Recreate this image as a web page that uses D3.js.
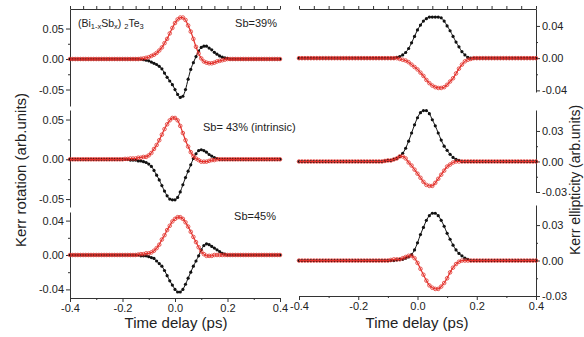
<!DOCTYPE html>
<html>
<head>
<meta charset="utf-8">
<script src="https://cdn.jsdelivr.net/npm/d3@7"></script>
<style>
  body { margin: 0; background: #fff; }
  text { font-family: Arial, "Liberation Sans", sans-serif; fill: #222; }
</style>
</head>
<body>
<div id="chart"></div>
<script>
// set up svg
var svgWidth = 584;
var svgHeight = 337;

// time axis (ps)
var timeDelay = [
  -0.40,-0.39,-0.38,-0.37,-0.36,-0.35,-0.34,-0.33,-0.32,-0.31,
  -0.30,-0.29,-0.28,-0.27,-0.26,-0.25,-0.24,-0.23,-0.22,-0.21,
  -0.20,-0.19,-0.18,-0.17,-0.16,-0.15,-0.14,-0.13,-0.12,-0.11,
  -0.10,-0.09,-0.08,-0.07,-0.06,-0.05,-0.04,-0.03,-0.02,-0.01,
  0.00,0.01,0.02,0.03,0.04,0.05,0.06,0.07,0.08,0.09,
  0.10,0.11,0.12,0.13,0.14,0.15,0.16,0.17,0.18,0.19,
  0.20,0.21,0.22,0.23,0.24,0.25,0.26,0.27,0.28,0.29,
  0.30,0.31,0.32,0.33,0.34,0.35,0.36,0.37,0.38,0.39,
  0.40];

// Kerr rotation, Sb=39%
var rot39Black = [
  0,0,0,0,0,0,0,0,0,0,
  0,0,0,0,0,0,0,0,0,0,
  0,0,0,0,0,0,0,0,-0.001,-0.002,
  -0.003,-0.005,-0.007,-0.009,-0.012,-0.016,-0.023,-0.030,-0.036,-0.042,
  -0.050,-0.058,-0.063,-0.061,-0.050,-0.033,-0.017,-0.006,0.004,0.013,
  0.019,0.021,0.021,0.018,0.015,0.011,0.008,0.005,0.003,0.002,
  0.001,0,0,0,0,0,0,0,0,0,
  0,0,0,0,0,0,0,0,0,0,
  0];
var rot39Red = [
  0,0,0,0,0,0,0,0,0,0,
  0,0,0,0,0,0,0,0,0,0,
  0,0,0,0,0,0,0,0.0005,0.001,0.002,
  0.003,0.005,0.007,0.010,0.014,0.019,0.026,0.033,0.042,0.051,
  0.059,0.065,0.068,0.068,0.064,0.055,0.045,0.033,0.020,0.009,
  0.001,-0.004,-0.006,-0.007,-0.007,-0.006,-0.004,-0.003,-0.002,-0.001,
  0,0,0,0,0,0,0,0,0,0,
  0,0,0,0,0,0,0,0,0,0,
  0];

// Kerr rotation, Sb=43%
var rot43Black = [
  0,0,0,0,0,0,0,0,0,0,
  0,0,0,0,0,0,0,0,0,0,
  0,0,0,-0.001,-0.001,-0.001,-0.002,-0.002,-0.003,-0.004,
  -0.006,-0.009,-0.014,-0.020,-0.026,-0.033,-0.040,-0.046,-0.050,-0.051,
  -0.051,-0.048,-0.041,-0.032,-0.023,-0.015,-0.007,0.001,0.007,0.011,
  0.012,0.011,0.009,0.006,0.004,0.002,0.001,0,0,0,
  0,0,0,0,0,0,0,0,0,0,
  0,0,0,0,0,0,0,0,0,0,
  0];
var rot43Red = [
  0,0,0,0,0,0,0,0,0,0,
  0,0,0,0,0,0,0,0,0,0,
  0,0.0005,0.0005,0.001,0.001,0.001,0.002,0.002,0.003,0.003,
  0.005,0.008,0.013,0.018,0.024,0.031,0.038,0.044,0.049,0.052,
  0.052,0.049,0.042,0.033,0.024,0.016,0.009,0.004,0.001,-0.001,
  -0.003,-0.003,-0.003,-0.002,-0.001,-0.001,0,0,0,0,
  0,0,0,0,0,0,0,0,0,0,
  0,0,0,0,0,0,0,0,0,0,
  0];

// Kerr rotation, Sb=45%
var rot45Black = [
  0,0,0,0,0,0,0,0,0,0,
  0,0,0,0,0,0,0,0,0,0,
  0,0,0,0,0,0,0,-0.001,-0.001,-0.001,
  -0.002,-0.003,-0.004,-0.007,-0.010,-0.013,-0.018,-0.024,-0.030,-0.035,
  -0.040,-0.043,-0.043,-0.040,-0.034,-0.027,-0.020,-0.013,-0.007,-0.001,
  0.006,0.011,0.013,0.012,0.010,0.008,0.006,0.004,0.002,0.001,
  0,0,0,0,0,0,0,0,0,0,
  0,0,0,0,0,0,0,0,0,0,
  0];
var rot45Red = [
  0,0,0,0,0,0,0,0,0,0,
  0,0,0,0,0,0,0,0,0,0,
  0,0,0,0,0,0,0.0005,0.001,0.001,0.002,
  0.002,0.003,0.005,0.008,0.012,0.018,0.023,0.029,0.034,0.039,
  0.042,0.044,0.044,0.042,0.038,0.033,0.027,0.021,0.015,0.009,
  0.004,0.001,-0.001,-0.001,-0.001,0,0,0,0,0,
  0,0,0,0,0,0,0,0,0,0,
  0,0,0,0,0,0,0,0,0,0,
  0];

// Kerr ellipticity, Sb=39%
var ell39Black = [
  0,0,0,0,0,0,0,0,0,0,
  0,0,0,0,0,0,0,0,0,0,
  0,0,0,0,0,0,0,0,0,0,
  0,0,0,0.001,0.002,0.004,0.007,0.012,0.019,0.027,
  0.035,0.041,0.046,0.049,0.051,0.051,0.051,0.051,0.050,0.046,
  0.040,0.034,0.027,0.020,0.014,0.008,0.004,0.001,0,0,
  0,0,0,0,0,0,0,0,0,0,
  0,0,0,0,0,0,0,0,0,0,
  0];
var ell39Red = [
  0,0,0,0,0,0,0,0,0,0,
  0,0,0,0,0,0,0,0,0,0,
  0,0,0,0,0,0,0,0,0,0,
  0,0,0,0,-0.001,-0.002,-0.003,-0.005,-0.008,-0.011,
  -0.014,-0.018,-0.022,-0.027,-0.031,-0.034,-0.036,-0.037,-0.037,-0.036,
  -0.033,-0.029,-0.025,-0.019,-0.013,-0.008,-0.004,-0.002,-0.001,0,
  0,0,0,0,0,0,0,0,0,0,
  0,0,0,0,0,0,0,0,0,0,
  0];

// Kerr ellipticity, Sb=43%
var ell43Black = [
  0,0,0,0,0,0,0,0,0,0,
  0,0,0,0,0,0,0,0,0,0,
  0,0,0,0,0,0,0,0,0,0.0005,
  0.001,0.001,0.002,0.003,0.005,0.008,0.013,0.020,0.028,0.036,
  0.043,0.048,0.050,0.050,0.047,0.041,0.035,0.028,0.021,0.015,
  0.011,0.007,0.004,0.002,0.001,0,0,0,0,0,
  0,0,0,0,0,0,0,0,0,0,
  0,0,0,0,0,0,0,0,0,0,
  0];
var ell43Red = [
  0,0,0,0,0,0,0,0,0,0,
  0,0,0,0,0,0,0,0,0,0,
  0,0,0,0,0,0,0,0,0,0.0005,
  0.001,0.001,0.002,0.003,0.005,0.005,0.003,-0.001,-0.004,-0.008,
  -0.012,-0.016,-0.020,-0.023,-0.024,-0.024,-0.021,-0.017,-0.013,-0.009,
  -0.005,-0.003,-0.001,0,0,0,0,0,0,0,
  0,0,0,0,0,0,0,0,0,0,
  0,0,0,0,0,0,0,0,0,0,
  0];

// Kerr ellipticity, Sb=45%
var ell45Black = [
  0,0,0,0,0,0,0,0,0,0,
  0,0,0,0,0,0,0,0,0,0,
  0,0,0,0,0,0,0,0,0,0,
  0,0,0,0.0005,0.001,0.001,0.002,0.003,0.005,0.009,
  0.015,0.022,0.028,0.034,0.038,0.040,0.040,0.038,0.034,0.029,
  0.023,0.018,0.013,0.009,0.006,0.004,0.002,0.001,0,0,
  0,0,0,0,0,0,0,0,0,0,
  0,0,0,0,0,0,0,0,0,0,
  0];
var ell45Red = [
  0,0,0,0,0,0,0,0,0,0,
  0,0,0,0,0,0,0,0,0,0,
  0,0,0,0,0,0,0,0,0,0,
  0,0.0005,0.001,0.001,0.001,0.002,0.003,0.004,0.004,0.002,
  -0.002,-0.007,-0.012,-0.017,-0.021,-0.023,-0.024,-0.024,-0.022,-0.019,
  -0.015,-0.010,-0.006,-0.003,-0.001,0,0,0,0,0,
  0,0,0,0,0,0,0,0,0,0,
  0,0,0,0,0,0,0,0,0,0,
  0];

// tick labels
var xTicks = [-0.4, -0.2, 0.0, 0.2, 0.4];
var rotTicks = [[-0.05, 0, 0.05], [-0.05, 0, 0.05], [-0.04, 0, 0.04]];
var ellTicks = [[-0.04, 0, 0.04], [-0.03, 0, 0.03], [-0.03, 0, 0.03]];
var sampleLabels = ["Sb=39%", "Sb= 43% (intrinsic)", "Sb=45%"];

var svg = d3.select("#chart")
  .append("svg")
  .attr("width", svgWidth)
  .attr("height", svgHeight);

var leftX = d3.scaleLinear().domain([-0.4, 0.4]).range([70, 280]);
var rightX = d3.scaleLinear().domain([-0.4, 0.4]).range([299, 536]);

var redColor = "#e2312b";

var panels = [
  {x: leftX, side: "left", top: 9, bottom: 106, domain: [-0.077, 0.082], ticks: rotTicks[0], black: rot39Black, red: rot39Red, first: true},
  {x: leftX, side: "left", top: 110, bottom: 207, domain: [-0.06, 0.062], ticks: rotTicks[1], black: rot43Black, red: rot43Red},
  {x: leftX, side: "left", top: 212, bottom: 298, domain: [-0.05, 0.05], ticks: rotTicks[2], black: rot45Black, red: rot45Red, last: true},
  {x: rightX, side: "right", top: 9, bottom: 92, domain: [-0.042, 0.061], ticks: ellTicks[0], black: ell39Black, red: ell39Red, first: true},
  {x: rightX, side: "right", top: 110, bottom: 192, domain: [-0.03, 0.0506], ticks: ellTicks[1], black: ell43Black, red: ell43Red},
  {x: rightX, side: "right", top: 205, bottom: 296, domain: [-0.03, 0.047], ticks: ellTicks[2], black: ell45Black, red: ell45Red, last: true}
];

function styleAxis(g) {
  g.attr("font-family", "Arial, 'Liberation Sans', sans-serif").attr("font-size", 11);
  g.selectAll("path, line").attr("stroke", "#333");
  g.selectAll("text").attr("fill", "#222");
}

panels.forEach(function(p) {
  var x = p.x;
  var y = d3.scaleLinear().domain(p.domain).range([p.bottom, p.top]);
  var g = svg.append("g");
  var axisX = p.side == "left" ? x.range()[0] : x.range()[1];
  var makeAxis = p.side == "left" ? d3.axisLeft : d3.axisRight;

  // y axis with labels
  g.append("g")
    .attr("transform", `translate(${axisX},0)`)
    .call(makeAxis(y).tickValues(p.ticks).tickSize(4).tickSizeOuter(0).tickPadding(2)
      .tickFormat(d => d.toFixed(2)))
    .call(styleAxis);

  // minor y ticks
  var minor = [p.ticks[0] / 2, p.ticks[2] / 2];
  g.append("g")
    .attr("transform", `translate(${axisX},0)`)
    .call(makeAxis(y).tickValues(minor).tickSize(2).tickFormat(""))
    .call(styleAxis)
    .select(".domain").remove();

  // top frame line on first panel
  if (p.first) {
    g.append("g")
      .attr("transform", `translate(0,${p.top})`)
      .call(d3.axisTop(x).ticks(16).tickSize(3).tickSizeOuter(0).tickFormat(""))
      .call(styleAxis);
  }

  // bottom axis on last panel
  if (p.last) {
    g.append("g")
      .attr("transform", `translate(0,${p.bottom})`)
      .call(d3.axisBottom(x).tickValues(xTicks).tickSize(4).tickSizeOuter(0).tickPadding(2)
        .tickFormat(d => d.toFixed(1)))
      .call(styleAxis);
    g.append("g")
      .attr("transform", `translate(0,${p.bottom})`)
      .call(d3.axisBottom(x).tickValues([-0.3, -0.1, 0.1, 0.3]).tickSize(2).tickFormat(""))
      .call(styleAxis)
      .select(".domain").remove();
  }

  var line = d3.line()
    .x((d, i) => x(timeDelay[i]))
    .y(d => y(d))
    .curve(d3.curveMonotoneX);

  // black: filled dots + fit line
  g.append("path")
    .attr("d", line(p.black))
    .attr("fill", "none")
    .attr("stroke", "#111")
    .attr("stroke-width", 1);
  g.selectAll(".bdot")
    .data(p.black)
    .enter()
    .append("circle")
    .attr("class", "bdot")
    .attr("cx", (d, i) => x(timeDelay[i]))
    .attr("cy", d => y(d))
    .attr("r", 1.6)
    .attr("fill", "#111");

  // red: open circles + fit line
  g.append("path")
    .attr("d", line(p.red))
    .attr("fill", "none")
    .attr("stroke", redColor)
    .attr("stroke-width", 1.2);
  g.selectAll(".rdot")
    .data(p.red)
    .enter()
    .append("circle")
    .attr("class", "rdot")
    .attr("cx", (d, i) => x(timeDelay[i]))
    .attr("cy", d => y(d))
    .attr("r", 1.8)
    .attr("fill", "none")
    .attr("stroke", redColor)
    .attr("stroke-width", 0.8);
});

// sample labels
svg.append("text").attr("x", 277).attr("y", 27).attr("text-anchor", "end")
  .attr("font-size", 11).text(sampleLabels[0]);
svg.append("text").attr("x", 203).attr("y", 131)
  .attr("font-size", 11).text(sampleLabels[1]);
svg.append("text").attr("x", 276).attr("y", 220).attr("text-anchor", "end")
  .attr("font-size", 11).text(sampleLabels[2]);

// compound formula (Bi1-xSbx)2Te3
var formula = svg.append("text").attr("x", 78).attr("y", 27).attr("font-size", 10.5);
formula.append("tspan").text("(Bi");
formula.append("tspan").attr("font-size", 7.5).attr("dy", 2).text("1-x");
formula.append("tspan").attr("dy", -2).text("Sb");
formula.append("tspan").attr("font-size", 7.5).attr("dy", 2).text("x");
formula.append("tspan").attr("dy", -2).text(") ");
formula.append("tspan").attr("font-size", 7.5).attr("dy", 2).text("2");
formula.append("tspan").attr("dy", -2).text("Te");
formula.append("tspan").attr("font-size", 7.5).attr("dy", 2).text("3");

// axis titles
svg.append("text")
  .attr("transform", "translate(176,328)")
  .attr("text-anchor", "middle")
  .attr("font-size", 15)
  .text("Time delay (ps)");
svg.append("text")
  .attr("transform", "translate(417,328)")
  .attr("text-anchor", "middle")
  .attr("font-size", 15)
  .text("Time delay (ps)");
svg.append("text")
  .attr("transform", "translate(26,170) rotate(-90)")
  .attr("text-anchor", "middle")
  .attr("font-size", 15)
  .text("Kerr rotation (arb.units)");
svg.append("text")
  .attr("transform", "translate(580,180) rotate(-90)")
  .attr("text-anchor", "middle")
  .attr("font-size", 14)
  .text("Kerr ellipticity (arb.units)");
</script>
</body>
</html>
